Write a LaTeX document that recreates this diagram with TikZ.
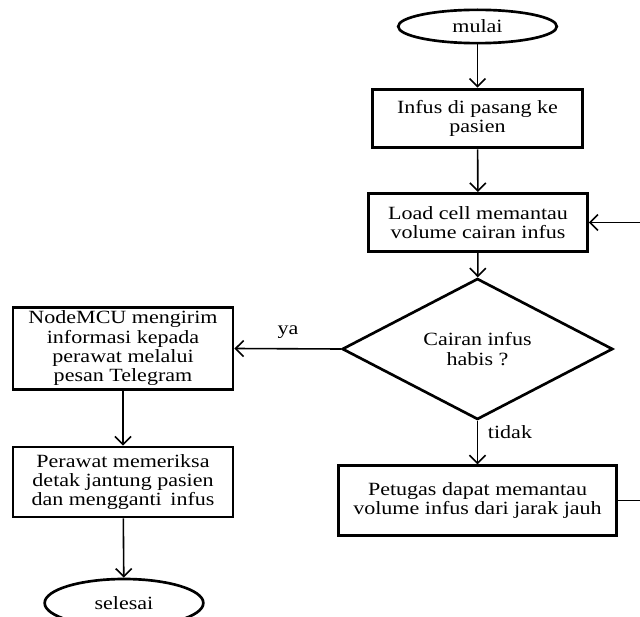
\documentclass[tikz,border=0pt]{standalone}
\usepackage{fontspec}
\setmainfont[FakeStretch=1.18]{Liberation Serif}
\usetikzlibrary{shapes.geometric,arrows.meta}
\begin{document}
\begin{tikzpicture}[x=0.75pt,y=-0.75pt,
  every node/.style={font=\fontsize{14}{14.5}\selectfont, align=center, inner sep=1pt},
  proc/.style={draw, line width=2.2pt, rectangle},
  term/.style={draw, line width=2pt, ellipse},
  decide/.style={draw, line width=2pt, diamond},
  conn/.style={line width=1.2pt, -{Straight Barb[length=6pt,width=12pt,line width=1.2pt]}},
  lbl/.style={inner sep=0pt}]
\useasboundingbox (0,0) rectangle (640,617);
\clip (0,0) rectangle (640,617);
\fill[white] (0,0) rectangle (640,617);

\node[term, minimum width=119pt, minimum height=25pt] (mulai) at (477.5,26.5) {mulai};
\node[proc, minimum width=157pt, minimum height=44pt] (pasang) at (477.5,118.5) {Infus di pasang ke\\pasien};
\node[proc, minimum width=164pt, minimum height=43.5pt] (load) at (478,222.5) {Load cell memantau\\volume cairan infus};
\node[decide, minimum width=203pt, minimum height=84pt, inner sep=0pt] (habis) at (477.5,349) {Cairan infus\\habis ?};
\node[proc, minimum width=209pt, minimum height=52pt] (petugas) at (477.5,500.5) {Petugas dapat memantau\\volume infus dari jarak jauh};
\node[proc, minimum width=165pt, minimum height=62pt] (nodemcu) at (123,348.5) {NodeMCU mengirim\\informasi kepada\\perawat melalui\\pesan Telegram};
\node[proc, minimum width=165pt, minimum height=52.5pt] (perawat) at (123,482) {Perawat memeriksa\\detak jantung pasien\\dan mengganti\, infus};
\node[term, minimum width=119pt, minimum height=36pt] (selesai) at (124,603) {selesai};

\node[lbl] (ya) at (288,332) {ya};
\node[lbl] (tidak) at (510,432) {tidak};

\coordinate (loopbot) at (670,500.5);
\coordinate (looptop) at (670,222.5);

\draw[conn] (mulai) -- (pasang);
\draw[conn] (pasang) -- (load);
\draw[conn] (load) -- (habis);
\draw[conn] (habis.west) -- (nodemcu.east);
\draw[conn] (habis.south) -- (petugas.north);
\draw[conn] (nodemcu) -- (perawat);
\draw[conn] (perawat) -- (selesai);
\draw[conn] (petugas.east) -- (loopbot) -- (looptop) -- (load.east);
\end{tikzpicture}
\end{document}
